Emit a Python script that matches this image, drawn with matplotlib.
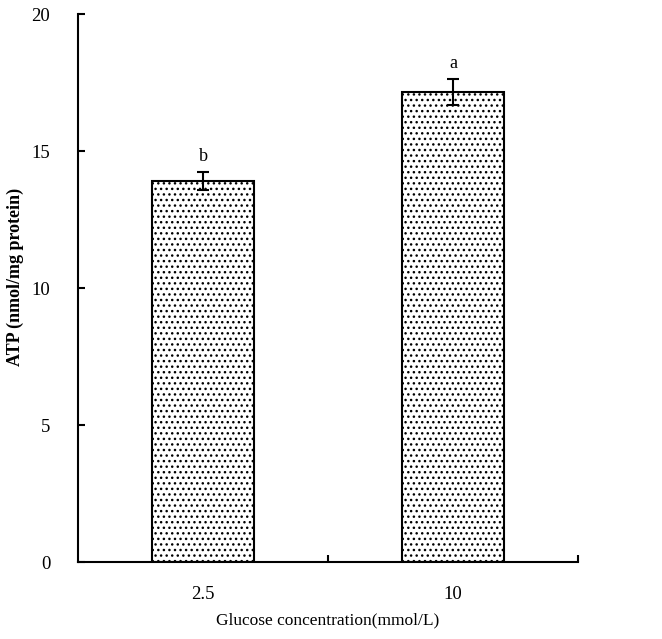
import matplotlib.pyplot as plt
import matplotlib as mpl

mpl.rcParams['font.family'] = ['Liberation Serif', 'DejaVu Serif']
mpl.rcParams['hatch.linewidth'] = 1.0

categories = ["2.5", "10"]
atp = [13.9, 17.15]
atp_err = [0.34, 0.47]
letters = ["b", "a"]

fig = plt.figure(figsize=(6.62, 6.39), dpi=100)
ax = fig.add_axes([0.118, 0.1205, 0.755, 0.8575])

pos = [0.5, 1.5]
ax.bar(pos, atp, width=0.41, color="white", edgecolor="black", linewidth=1.5,
       hatch="...", yerr=atp_err, error_kw=dict(ecolor="black", elinewidth=1.5, capsize=4, capthick=1.5))
for x, v, e, s in zip(pos, atp, atp_err, letters):
    ax.text(x, v + e + 0.25, s, ha="center", va="bottom", fontsize=13)

ax.set_xlim(0, 2)
ax.set_ylim(0, 20)
ax.set_yticks([0, 5, 10, 15, 20])
ax.set_xticks([1, 2])
ax.set_xticklabels([])
ax.set_xticks(pos, minor=True)
ax.set_xticklabels(categories, minor=True)
ax.tick_params(axis="x", which="minor", length=0, pad=17, labelsize=13.5)
ax.tick_params(axis="x", which="major", direction="in", length=5, width=1.5)
ax.tick_params(axis="y", direction="in", length=5, width=1.5, pad=20, labelsize=13.5)
for s in ["top", "right"]:
    ax.spines[s].set_visible(False)
for s in ["left", "bottom"]:
    ax.spines[s].set_linewidth(1.5)

ax.set_xlabel("Glucose concentration(mmol/L)", fontsize=12.5, labelpad=7)
ax.set_ylabel("ATP (nmol/mg protein)", fontsize=13, fontweight="bold")
ax.yaxis.set_label_coords(-0.108, 0.52)

fig.savefig("out.png", dpi=100)
